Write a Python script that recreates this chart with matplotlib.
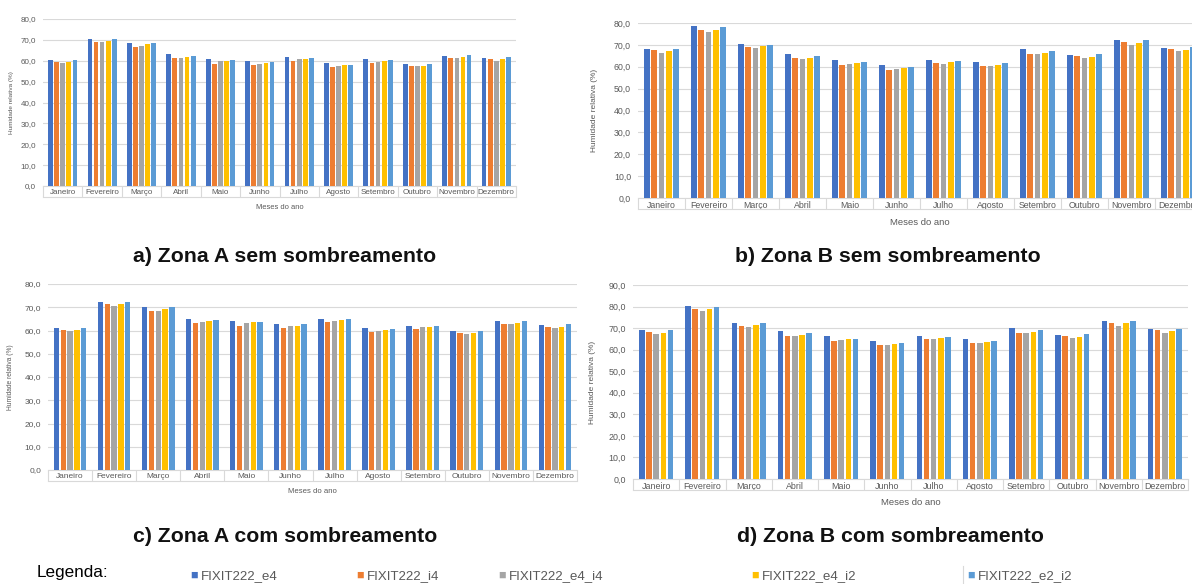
import matplotlib.pyplot as plt
import numpy as np
from matplotlib.lines import Line2D
from matplotlib.ticker import FuncFormatter, FixedLocator

plt.rcParams['font.family'] = ['Liberation Sans', 'DejaVu Sans']

meses = ['Janeiro', 'Fevereiro', 'Março', 'Abril', 'Maio', 'Junho', 'Julho',
         'Agosto', 'Setembro', 'Outubro', 'Novembro', 'Dezembro']
series = ['FIXIT222_e4', 'FIXIT222_i4', 'FIXIT222_e4_i4', 'FIXIT222_e4_i2', 'FIXIT222_e2_i2']
cores = ['#4472C4', '#ED7D31', '#A5A5A5', '#FFC000', '#5B9BD5']

# humidade relativa média mensal (%), uma linha por mês, uma coluna por série
zona_a_sem = [
    [60.3, 59.3, 59.0, 59.6, 60.3],
    [70.4, 69.2, 68.8, 69.6, 70.5],
    [68.6, 66.7, 67.1, 67.8, 68.4],
    [63.0, 61.2, 61.5, 61.9, 62.5],
    [60.9, 58.6, 59.8, 59.9, 60.2],
    [59.9, 57.9, 58.5, 59.0, 59.5],
    [61.7, 60.1, 60.7, 60.9, 61.2],
    [58.7, 56.9, 57.5, 57.9, 58.2],
    [60.7, 58.8, 59.6, 59.9, 60.3],
    [58.5, 57.4, 57.4, 57.7, 58.5],
    [62.5, 61.5, 61.2, 61.7, 62.7],
    [61.5, 60.7, 59.9, 60.6, 61.7],
]
zona_b_sem = [
    [68.3, 67.5, 66.4, 67.0, 68.1],
    [78.6, 77.0, 75.9, 76.8, 78.0],
    [70.4, 68.9, 68.6, 69.3, 70.1],
    [65.8, 63.8, 63.7, 64.2, 65.1],
    [63.2, 60.8, 61.4, 61.9, 62.3],
    [60.6, 58.7, 58.8, 59.3, 59.9],
    [62.9, 61.6, 61.4, 62.0, 62.6],
    [62.3, 60.5, 60.5, 61.0, 61.6],
    [68.0, 65.8, 65.8, 66.4, 67.0],
    [65.5, 64.9, 64.0, 64.6, 65.8],
    [72.1, 71.5, 70.1, 71.0, 72.4],
    [68.7, 68.3, 67.0, 67.7, 68.9],
]
zona_a_com = [
    [61.1, 60.4, 60.0, 60.4, 61.1],
    [72.1, 71.3, 70.7, 71.4, 72.2],
    [70.0, 68.4, 68.6, 69.1, 70.0],
    [65.0, 63.3, 63.5, 64.0, 64.4],
    [64.3, 61.8, 63.1, 63.5, 63.5],
    [62.8, 61.1, 61.8, 62.1, 62.7],
    [65.1, 63.5, 64.3, 64.4, 64.8],
    [61.0, 59.5, 60.0, 60.3, 60.7],
    [62.1, 60.5, 61.3, 61.7, 61.8],
    [59.8, 59.0, 58.7, 59.1, 60.0],
    [64.0, 63.0, 62.7, 63.3, 64.0],
    [62.4, 61.5, 61.0, 61.5, 62.7],
]
zona_b_com = [
    [69.0, 68.4, 67.3, 67.9, 69.0],
    [80.3, 78.9, 77.8, 78.7, 80.0],
    [72.4, 71.0, 70.7, 71.3, 72.2],
    [68.5, 66.5, 66.2, 67.0, 67.8],
    [66.5, 63.9, 64.7, 65.0, 65.1],
    [63.9, 62.1, 62.1, 62.7, 63.3],
    [66.5, 65.0, 65.0, 65.3, 66.1],
    [64.8, 63.1, 63.1, 63.4, 64.2],
    [69.9, 67.6, 67.9, 68.4, 69.0],
    [67.0, 66.4, 65.3, 66.1, 67.3],
    [73.2, 72.6, 71.0, 72.2, 73.5],
    [69.6, 69.2, 67.9, 68.5, 69.6],
]

W, H = 1192, 584
CINZA = '#595959'
GRELHA = '#D9D9D9'

fig = plt.figure(figsize=(W / 100, H / 100), dpi=100)


def painel(px, dados, ymax, fs_tick, fs_lab, ylab_x, xlab_dy, titulo, tit_xy):
    # px = (esquerda, topo, direita, base) em pixeis da figura
    l, t, r, b = px
    ax = fig.add_axes([l / W, 1 - b / H, (r - l) / W, (b - t) / H])
    valores = np.array(dados).T
    x = np.arange(len(meses))
    passo = 0.155
    for i, (nome, cor) in enumerate(zip(series, cores)):
        ax.bar(x + (i - 2) * passo, valores[i], width=0.12, color=cor,
               label=nome, zorder=3)
    ax.set_xlim(-0.5, len(meses) - 0.5)
    ax.set_ylim(0, ymax)
    ax.set_yticks(np.arange(0, ymax + 1, 10))
    ax.yaxis.set_major_formatter(FuncFormatter(lambda v, p: f'{v:.1f}'.replace('.', ',')))
    ax.grid(axis='y', color=GRELHA, linewidth=0.8, zorder=0)
    for s in ['top', 'right', 'left']:
        ax.spines[s].set_visible(False)
    ax.spines['bottom'].set_color(GRELHA)
    ax.spines['bottom'].set_linewidth(0.8)
    # separadores das categorias em forma de tabela por baixo do eixo
    ax.xaxis.set_major_locator(FixedLocator(np.arange(-0.5, len(meses), 1)))
    ax.xaxis.set_minor_locator(FixedLocator(x))
    ax.set_xticklabels([''] * (len(meses) + 1))
    ax.set_xticklabels(meses, minor=True)
    ax.tick_params(axis='x', which='major', length=8, color=GRELHA, width=0.8)
    ax.tick_params(axis='x', which='minor', length=0, pad=2.5, labelsize=fs_tick,
                   labelcolor=CINZA)
    ax.tick_params(axis='y', length=0, pad=5, labelsize=fs_tick, labelcolor=CINZA)
    fundo = 11 / (b - t)
    ax.add_line(Line2D([0, 1], [-fundo, -fundo], transform=ax.transAxes,
                       color=GRELHA, linewidth=0.8, clip_on=False))
    ax.set_ylabel('Humidade relativa (%)', fontsize=fs_lab, color=CINZA)
    ax.yaxis.set_label_coords((ylab_x - l) / (r - l), 0.5)
    ax.set_xlabel('Meses do ano', fontsize=fs_lab + 0.8, color=CINZA)
    ax.xaxis.set_label_coords(0.5, -xlab_dy / (b - t))
    fig.text(tit_xy[0] / W, 1 - tit_xy[1] / H, titulo, fontsize=15.3,
             fontweight='bold', ha='center', va='center', color='#111111')
    return ax


painel((43, 19, 516, 186), zona_a_sem, 80, 5.8, 4.6, 14, 18,
       'a) Zona A sem sombreamento', (285, 256))
painel((638, 23, 1202, 198), zona_b_sem, 80, 6.3, 6.0, 598, 20,
       'b) Zona B sem sombreamento', (888, 256))
painel((48, 284, 577, 470), zona_a_com, 80, 6.0, 4.8, 14, 18,
       'c) Zona A com sombreamento', (285, 536))
painel((633, 285, 1188, 479), zona_b_com, 90, 6.4, 6.0, 596, 19,
       'd) Zona B com sombreamento', (890, 536))

# legenda comum
fig.text(37 / W, 1 - 573 / H, 'Legenda:', fontsize=12.3, va='center', ha='left')
pos_legenda = [190, 356, 498, 751, 967]
for xq, nome, cor in zip(pos_legenda, series, cores):
    fig.text(xq / W, 1 - 576 / H, '■', fontsize=9, color=cor, va='center', ha='left')
    fig.text((xq + 11) / W, 1 - 576 / H, nome, fontsize=9.5, color=CINZA,
             va='center', ha='left')
fig.add_artist(Line2D([963 / W, 963 / W], [0, 1 - 566 / H], color=GRELHA, linewidth=0.8))

fig.savefig('out.png', dpi=100)
